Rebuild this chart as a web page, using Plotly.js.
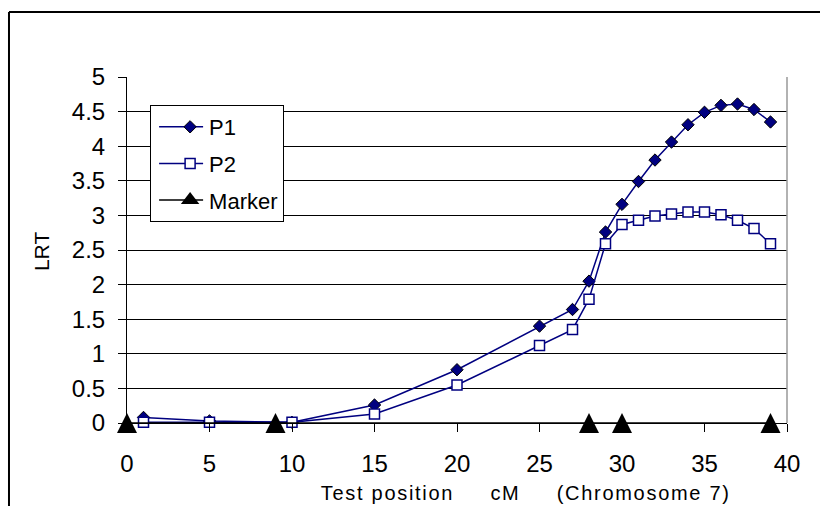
<!DOCTYPE html>
<html>
<head>
<meta charset="utf-8">
<script src="https://cdn.plot.ly/plotly-3.0.1.min.js"></script>
<style>
  html, body { margin: 0; padding: 0; background: #fff; }
  #chart { width: 820px; height: 506px; }
  .xtitle-ann .annotation-text { letter-spacing: 1.7px; }
</style>
</head>
<body>
<div id="chart"></div>
<script>
// Test positions (cM) for the LRT profiles
const positions = [1, 5, 10, 15, 20, 25, 27, 28, 29, 30, 31, 32, 33, 34, 35, 36, 37, 38, 39];
// LRT values, series P1
const p1Values = [0.08, 0.03, 0.01, 0.26, 0.77, 1.40, 1.64, 2.05, 2.76, 3.16, 3.49, 3.80, 4.06, 4.31, 4.49, 4.59, 4.61, 4.53, 4.35];
// LRT values, series P2
const p2Values = [0.01, 0.01, 0.01, 0.13, 0.55, 1.12, 1.35, 1.79, 2.59, 2.87, 2.93, 2.99, 3.02, 3.05, 3.05, 3.01, 2.93, 2.81, 2.59];
// Marker positions (cM)
const markerPositions = [0, 9, 28, 30, 39];
const markerValues = [0, 0, 0, 0, 0];
// Axis ticks
const xTicks = [0, 5, 10, 15, 20, 25, 30, 35, 40];
const yTicks = [0, 0.5, 1, 1.5, 2, 2.5, 3, 3.5, 4, 4.5, 5];
const yTickLabels = ['0', '0.5', '1', '1.5', '2', '2.5', '3', '3.5', '4', '4.5', '5'];

const FONT = 'Liberation Sans, Arial, sans-serif';
const NAVY = '#000080';

const traces = [
  {
    name: 'P1', x: positions, y: p1Values, type: 'scatter', mode: 'lines+markers',
    legendgroup: 'a', cliponaxis: false,
    line: { color: NAVY, width: 1.5 },
    marker: { symbol: 'diamond', size: 9.5, color: NAVY, line: { color: '#000', width: 1 } }
  },
  {
    name: 'P2', x: positions, y: p2Values, type: 'scatter', mode: 'lines+markers',
    legendgroup: 'b', cliponaxis: false,
    line: { color: NAVY, width: 1.5 },
    marker: { symbol: 'square', size: 10, color: '#fff', line: { color: NAVY, width: 1.5 } }
  },
  {
    name: 'Marker', x: markerPositions, y: markerValues, type: 'scatter', mode: 'lines+markers',
    legendgroup: 'c', cliponaxis: false, showlegend: false,
    line: { color: '#000', width: 1.5 },
    marker: { symbol: 'arrow-down', angle: 180, size: 20, standoff: 10, color: '#000', line: { width: 0 } }
  },
  {
    // legend entry for the markers (draws nothing in the plot)
    name: 'Marker', x: [null], y: [null], type: 'scatter', mode: 'lines+markers',
    legendgroup: 'c', showlegend: true,
    line: { color: '#000', width: 1.5 },
    marker: { symbol: 'triangle-up', size: 18, color: '#000', line: { width: 0 } }
  }
];

const layout = {
  width: 820, height: 506,
  margin: { l: 127, r: 33, t: 77, b: 83 },
  paper_bgcolor: '#fff', plot_bgcolor: '#fff',
  font: { family: FONT, color: '#000' },
  showlegend: true,
  legend: {
    x: 0.035, y: 0.919, xanchor: 'left', yanchor: 'top',
    bgcolor: '#fff', bordercolor: '#000', borderwidth: 1,
    font: { family: FONT, size: 22, color: '#000' },
    traceorder: 'grouped', tracegroupgap: 5, itemwidth: 48
  },
  xaxis: {
    range: [0, 40], tickvals: xTicks, ticktext: xTicks.map(String),
    showgrid: false, zeroline: false,
    showline: true, linecolor: '#000', linewidth: 1,
    ticks: 'outside', ticklen: 8, tickcolor: '#000', tickwidth: 1,
    ticklabelstandoff: 11,
    tickfont: { family: FONT, size: 24, color: '#000' },
    fixedrange: true
  },
  yaxis: {
    range: [0, 5], tickvals: yTicks, ticktext: yTickLabels,
    showgrid: true, gridcolor: '#000', gridwidth: 1, zeroline: false,
    showline: true, linecolor: '#000', linewidth: 1,
    ticks: 'outside', ticklen: 8, tickcolor: '#000', tickwidth: 1,
    ticklabelstandoff: 8,
    tickfont: { family: FONT, size: 24, color: '#000' },
    fixedrange: true
  },
  annotations: [
    {
      xref: 'paper', yref: 'paper', x: 0.6045, y: -0.2023,
      xanchor: 'center', yanchor: 'middle', showarrow: false,
      text: 'Test position\u00a0\u00a0\u00a0\u00a0\u00a0cM\u00a0\u00a0\u00a0\u00a0\u00a0(Chromosome 7)',
      font: { family: FONT, size: 20, color: '#000' }
    },
    {
      xref: 'paper', yref: 'paper', x: -0.1303, y: 0.494,
      xanchor: 'center', yanchor: 'middle', showarrow: false, textangle: -90,
      text: 'LRT',
      font: { family: FONT, size: 21, color: '#000' }
    }
  ],
  shapes: [
    // plot-area right border (grey)
    { type: 'line', xref: 'paper', yref: 'paper', x0: 1, x1: 1, y0: 0, y1: 1,
      line: { color: '#999', width: 1.5 }, layer: 'above' },
    // outer chart-area border (left and top edges visible)
    { type: 'line', xref: 'paper', yref: 'paper', x0: -0.1788, x1: -0.1788, y0: 1.1879, y1: -0.3,
      line: { color: '#000', width: 2 } },
    { type: 'line', xref: 'paper', yref: 'paper', x0: -0.1788, x1: 1.2, y0: 1.1879, y1: 1.1879,
      line: { color: '#000', width: 2 } }
  ]
};

Plotly.newPlot('chart', traces, layout, { displayModeBar: false, staticPlot: true }).then(function (gd) {
  var anns = gd.querySelectorAll('.annotation');
  if (anns.length) anns[0].classList.add('xtitle-ann');
  // lengthen the legend sample lines like the original legend
  gd.querySelectorAll('.legend .legendlines path').forEach(function (p) {
    p.setAttribute('d', 'M8,0h44');
  });
  gd.querySelectorAll('.legend .legendsymbols').forEach(function (g) {
    g.setAttribute('transform', 'translate(10,0)');
  });
});
</script>
</body>
</html>
